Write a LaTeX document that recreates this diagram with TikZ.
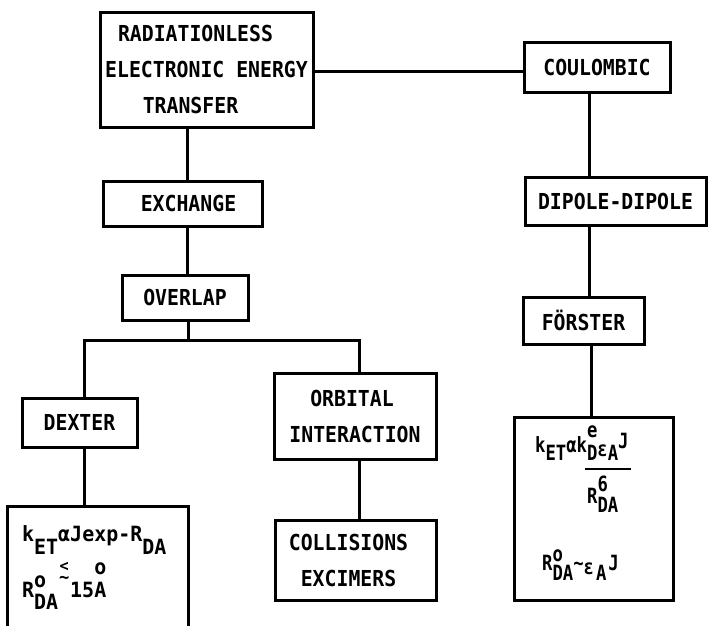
\documentclass[tikz,border=0pt]{standalone}
\usepackage{fontspec}
\newfontfamily\twfont[FakeStretch=0.9]{DejaVu Sans Mono}
\newfontfamily\tfplain[FakeStretch=0.95]{DejaVu Sans Mono}
\newfontfamily\tfnarrow[FakeStretch=0.82]{DejaVu Sans Mono}
\newcommand\lab{\twfont\bfseries\fontsize{22}{36}\selectfont}
\newcommand\fmL{\tfplain\bfseries\fontsize{21}{24}\selectfont}
\newcommand\fmR{\tfnarrow\bfseries\fontsize{21}{24}\selectfont}
\newcommand\lw[2][12pt]{\raisebox{-#1}{#2}}
\newcommand\ovr[2]{\rlap{\raisebox{#1}{#2}}}
\tikzset{
  box/.style={draw, line width=3pt, inner sep=0pt, align=center, font=\lab},
  conn/.style={line width=3pt},
  formula/.style={anchor=base west, inner sep=0pt}
}
\begin{document}
\begin{tikzpicture}[x=1pt,y=-1pt]
\useasboundingbox (0,0) rectangle (708,625);
\clip (0,0) rectangle (708,625);
\fill[white] (0,0) rectangle (708,625);
% boxes (centre, size)
\node[box, minimum width=213pt, minimum height=115pt] (top) at (206.5,69.5)
  {RADIATIONLESS\hspace*{22pt}\\ELECTRONIC ENERGY\hspace*{12pt}\\TRANSFER\hspace*{32pt}};
\node[box, minimum width=146pt, minimum height=50pt] (coul) at (597,67) {COULOMBIC};
\node[box, minimum width=159pt, minimum height=45pt] (exch) at (182.5,203.5) {\hspace*{12pt}EXCHANGE};
\node[box, minimum width=181pt, minimum height=48pt] (dip) at (615.5,201) {DIPOLE-DIPOLE};
\node[box, minimum width=126pt, minimum height=45pt] (ovl) at (185,297.5) {OVERLAP};
\node[box, minimum width=121pt, minimum height=47pt] (forst) at (583.5,320.5) {FÖRSTER};
\node[box, minimum width=115pt, minimum height=49pt] (dex) at (79.5,422.5) {DEXTER};
\node[box, minimum width=162pt, minimum height=86pt] (orb) at (355,416)
  {ORBITAL\hspace*{6pt}\\INTERACTION};
\node[box, minimum width=161pt, minimum height=80pt] (col) at (355.5,560)
  {COLLISIONS\hspace*{14pt}\\EXCIMERS\hspace*{14pt}};
\node[box, minimum width=159pt, minimum height=183pt] (fR) at (593.5,508.5) {};
\node[inner sep=0pt, minimum width=180pt, minimum height=130pt] (fL) at (98,572) {};
\draw[line width=3pt] (fL.south west) -- (fL.north west) -- (fL.north east) -- (fL.south east);
% formulas
\node[formula, font=\fmL] (fL1) at (22,541) {k\lw[13pt]{ET}αJexp-R\lw[13pt]{DA}};
\node[formula, font=\fmL] (fL2) at (22,597)
  {R\ovr{10pt}{o}\lw[12pt]{DA}\makebox[12pt]{\raisebox{26pt}{\fontsize{16}{16}\selectfont <}}\llap{\makebox[12pt]{\raisebox{14pt}{\fontsize{18}{18}\selectfont\textasciitilde}}}15\ovr{23pt}{o}A};
\node[formula, font=\fmR] (fR1) at (535,452)
  {k\lw[8pt]{ET}αk\ovr{15pt}{e}\lw[8pt]{D}\lw[4pt]{ε}\lw[8pt]{A}\raisebox{4pt}{J}};
\node[formula, font=\fmR] (fR2) at (587,503) {R\ovr{12pt}{6}\lw[9pt]{DA}};
\node[formula, font=\fmR] (fR3) at (542,570)
  {R\ovr{9pt}{o}\lw[10pt]{DA}\textasciitilde\lw[4pt]{ε}\hspace{2pt}\lw[10pt]{A}\hspace{2pt}J};
\coordinate (barl) at (585,469);
\coordinate (barr) at (631,469);
\draw[line width=2.2pt] (barl) -- (barr);
% connectors
\coordinate (hy) at (0,71);
\draw[conn] (top.east |- hy) -- (coul.west |- hy);
\coordinate (vx) at (187,0);
\draw[conn] (top.south -| vx) -- (exch.north -| vx);
\draw[conn] (exch.south -| vx) -- (ovl.north -| vx);
\coordinate (bm) at (188,340);
\coordinate (bl) at (84,340);
\coordinate (br) at (359,340);
\draw[conn] (ovl.south -| bm) -- (bm);
\draw[conn, line join=miter] (dex.north -| bl) -- (bl) -- (br) -- (orb.north -| br);
\draw[conn] (dex.south -| bl) -- (fL.north -| bl);
\draw[conn] (orb.south -| br) -- (col.north -| br);
\coordinate (rx) at (589,0);
\draw[conn] (coul.south -| rx) -- (dip.north -| rx);
\draw[conn] (dip.south -| rx) -- (forst.north -| rx);
\coordinate (rx2) at (591,0);
\draw[conn] (forst.south -| rx2) -- (fR.north -| rx2);
\end{tikzpicture}
\end{document}
